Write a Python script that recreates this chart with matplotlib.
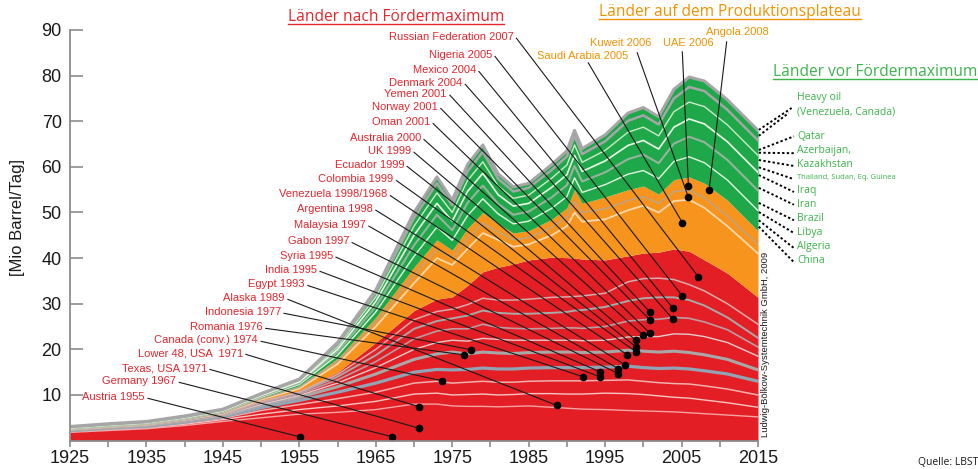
import numpy as np
import matplotlib
matplotlib.use("Agg")
import matplotlib.pyplot as plt
from matplotlib.lines import Line2D

# Weltölförderung nach Ländergruppen [Mio Barrel/Tag]
years = [1925, 1930, 1935, 1940, 1945, 1950, 1955, 1960, 1965, 1970, 1973, 1975, 1977, 1979,
         1981, 1983, 1985, 1988, 1990, 1991, 1992, 1995, 1998, 2000, 2002, 2004, 2006, 2008,
         2011, 2015]

# upper edges of the three groups (stacked)
red_top = [2.4, 3.0, 3.5, 4.6, 5.9, 8.6, 10.8, 15.0, 21.5, 28.5, 31.0, 31.5, 34.0, 37.0,
           38.0, 38.7, 39.6, 40.2, 40.1, 40.0, 39.8, 39.6, 40.5, 41.1, 41.3, 42.0, 41.5, 39.6,
           36.7, 31.4]
orange_top = [2.42, 3.02, 3.52, 4.65, 6.1, 9.3, 12.0, 18.0, 27.0, 38.0, 44.0, 41.7, 46.5, 50.0,
              47.5, 45.5, 46.0, 48.5, 51.0, 55.0, 52.0, 53.4, 55.0, 55.8, 54.0, 57.2, 57.8, 56.4,
              52.7, 46.0]
total = [3.1, 3.7, 4.2, 5.4, 6.9, 10.3, 13.5, 21.5, 33.0, 50.0, 57.8, 52.7, 60.5, 64.8,
         58.5, 55.6, 56.4, 60.5, 63.5, 68.0, 64.0, 67.0, 71.8, 73.0, 71.0, 77.0, 79.7, 78.8,
         74.7, 68.0]

# country borders inside the red group
red_l1 = [1.8, 2.2, 2.6, 3.3, 4.2, 5.0, 5.8, 6.2, 6.8, 8.0, 8.0, 7.6, 7.5, 7.5, 7.4, 7.5, 7.6,
          7.3, 7.1, 7.0, 6.9, 6.8, 6.6, 6.5, 6.4, 6.3, 6.1, 5.9, 5.6, 5.2]
red_l2 = [1.95, 2.4, 2.8, 3.6, 4.6, 5.8, 6.8, 7.6, 8.6, 10.2, 10.4, 10.0, 10.1, 10.2, 10.0, 10.1,
          10.3, 10.3, 10.2, 10.2, 10.2, 10.4, 10.3, 10.1, 9.8, 9.5, 9.3, 8.9, 8.3, 7.3]
red_l3 = [2.05, 2.55, 2.95, 3.8, 4.9, 6.6, 7.9, 9.2, 10.6, 12.6, 13.0, 12.6, 12.8, 13.0, 12.8, 12.8,
          13.0, 13.1, 13.1, 13.1, 13.1, 13.2, 13.3, 13.0, 12.7, 12.5, 12.4, 12.0, 11.3, 10.0]
red_l4 = [2.15, 2.7, 3.1, 4.05, 5.2, 7.2, 8.8, 10.6, 12.6, 15.0, 15.6, 15.5, 15.6, 15.9, 15.7,
          15.7, 15.9, 16.0, 16.0, 16.0, 16.0, 16.1, 16.3, 16.0, 15.8, 15.9, 15.7, 15.3, 14.6, 13.0]
red_l5 = [2.25, 2.8, 3.25, 4.25, 5.45, 7.7, 9.5, 11.8, 14.6, 17.8, 19.0, 19.4, 19.0, 19.4, 19.2,
          19.1, 19.3, 19.4, 19.4, 19.4, 19.3, 19.4, 19.8, 19.6, 19.4, 19.6, 19.3, 18.8, 17.8, 15.5]
red_l6 = [2.3, 2.85, 3.3, 4.35, 5.55, 7.95, 9.9, 12.6, 16.0, 20.0, 21.5, 22.0, 21.8, 22.4, 22.2,
          22.0, 22.0, 22.0, 22.0, 22.0, 21.9, 22.0, 22.7, 22.8, 22.8, 23.4, 23.3, 22.8, 21.5, 18.5]
red_l7 = [2.33, 2.9, 3.35, 4.42, 5.65, 8.2, 10.2, 13.3, 17.3, 22.3, 24.0, 24.5, 24.5, 25.5, 24.8,
          24.6, 24.5, 24.6, 24.7, 24.7, 24.6, 25.0, 26.2, 26.5, 26.6, 27.0, 26.8, 26.0, 24.3, 20.5]
red_l8 = [2.36, 2.95, 3.4, 4.5, 5.75, 8.4, 10.5, 14.0, 18.7, 24.5, 26.2, 26.8, 27.4, 28.5, 28.0,
          27.8, 27.8, 28.0, 28.2, 28.5, 28.6, 29.3, 30.6, 31.2, 31.4, 31.4, 30.8, 29.6, 27.0, 22.5]
red_l9 = [2.38, 2.98, 3.45, 4.55, 5.82, 8.5, 10.65, 14.5, 20.0, 26.5, 28.3, 28.8, 29.8, 31.2, 30.8,
          30.8, 31.0, 31.4, 31.5, 31.6, 31.7, 32.3, 34.8, 35.5, 35.6, 35.3, 34.2, 32.8, 30.0, 25.5]

# borders inside the orange group
orange_l1 = [2.41, 3.01, 3.51, 4.62, 6.0, 9.0, 11.4, 16.8, 25.0, 34.5, 40.0, 38.5, 42.0, 45.5,
             44.0, 42.5, 43.0, 45.0, 47.0, 50.0, 48.0, 48.5, 50.5, 51.5, 50.0, 52.5, 52.8, 51.0,
             47.0, 41.0]
orange_l2 = [2.415, 3.015, 3.515, 4.63, 6.05, 9.15, 11.7, 17.4, 26.0, 36.2, 42.0, 40.0, 44.3, 47.7,
             45.7, 44.0, 44.5, 46.7, 49.0, 52.5, 50.0, 50.8, 52.6, 53.5, 52.0, 54.6, 54.9, 53.2,
             49.2, 43.0]

# borders inside the green group
green_l1 = [2.55, 3.15, 3.65, 4.8, 6.25, 9.5, 12.3, 18.7, 28.2, 40.4, 46.8, 43.9, 49.3, 53.0,
            49.7, 47.5, 48.1, 50.9, 53.5, 57.6, 54.4, 56.1, 58.4, 59.2, 57.4, 61.2, 62.2, 60.9,
            57.1, 50.4]
green_l2 = [2.65, 3.25, 3.75, 4.9, 6.35, 9.7, 12.6, 19.4, 29.4, 42.8, 49.5, 46.1, 52.1, 55.9,
            51.9, 49.5, 50.2, 53.3, 56.0, 60.2, 56.8, 58.8, 61.7, 62.7, 60.8, 65.1, 66.6, 65.4,
            61.5, 54.8]
green_l3 = [2.75, 3.35, 3.85, 5.0, 6.5, 9.88, 12.87, 20.0, 30.5, 45.0, 52.0, 48.1, 54.6, 58.6,
            53.9, 51.4, 52.0, 55.5, 58.3, 62.5, 59.0, 61.3, 64.7, 65.8, 63.9, 68.7, 70.5, 69.4,
            65.5, 58.8]
green_l4 = [2.85, 3.45, 3.95, 5.1, 6.6, 10.05, 13.12, 20.6, 31.5, 47.0, 54.3, 50.0, 57.0, 61.1,
            55.8, 53.1, 53.8, 57.5, 60.4, 64.8, 61.0, 63.6, 67.6, 68.7, 66.8, 72.1, 74.2, 73.2,
            69.2, 62.5]
green_l5 = [2.95, 3.55, 4.05, 5.22, 6.75, 10.2, 13.35, 21.1, 32.4, 48.8, 56.4, 51.6, 59.0, 63.3,
            57.4, 54.6, 55.4, 59.3, 62.3, 66.7, 62.8, 65.6, 70.1, 71.3, 69.3, 75.0, 77.5, 76.6,
            72.5, 65.8]

# Länder nach Fördermaximum: label, dot position (year, level)
red_labels = ["Russian Federation 2007", "Nigeria 2005", "Mexico 2004", "Denmark 2004",
              "Yemen 2001", "Norway 2001", "Oman 2001", "Australia 2000", "UK 1999",
              "Ecuador 1999", "Colombia 1999", "Venezuela 1998/1968", "Argentina 1998",
              "Malaysia 1997", "Gabon 1997", "Syria 1995", "India 1995", "Egypt 1993",
              "Alaska 1989", "Indonesia 1977", "Romania 1976", "Canada (conv.) 1974",
              "Lower 48, USA  1971", "Texas, USA 1971", "Germany 1967", "Austria 1955"]
red_dot_x = [2007.2, 2005.1, 2003.9, 2003.9, 2000.9, 2000.9, 2000.9, 2000.0, 1999.0, 1999.0,
             1999.0, 1997.9, 1997.6, 1996.7, 1996.7, 1994.3, 1994.3, 1992.1, 1988.7, 1977.5,
             1976.5, 1973.7, 1970.7, 1970.7, 1967.1, 1955.1]
red_dot_y = [35.9, 31.7, 29.0, 26.6, 28.1, 26.4, 23.5, 23.1, 22.0, 20.6, 19.5, 18.8, 16.6, 15.8,
             14.7, 15.1, 14.0, 14.0, 7.7, 19.9, 18.8, 13.1, 7.4, 2.7, 0.86, 0.8]
# label anchor (right end of text)
red_lab_x = [1983.0, 1980.2, 1978.1, 1976.3, 1974.3, 1973.1, 1972.1, 1970.9, 1969.6, 1968.7,
             1967.3, 1966.5, 1964.6, 1963.7, 1961.5, 1959.4, 1957.3, 1955.7, 1953.1, 1952.6,
             1950.2, 1949.6, 1947.6, 1942.9, 1938.9, 1934.8]
red_lab_y = [88.5, 84.5, 81.2, 78.4, 76.0, 73.1, 69.8, 66.3, 63.5, 60.4, 57.3, 54.0, 50.8, 47.3,
             43.7, 40.5, 37.4, 34.3, 31.25, 28.2, 24.9, 22.05, 19.2, 15.9, 13.06, 9.56]

# Länder auf dem Produktionsplateau
orange_labels = ["Kuweit 2006", "UAE 2006", "Saudi Arabia 2005", "Angola 2008"]
orange_dot_x = [2005.9, 2005.9, 2005.1, 2008.6]
orange_dot_y = [53.3, 55.8, 47.8, 54.9]
orange_lab_x = [1993.0, 2002.6, 1986.1, 2008.2]
orange_lab_y = [87.1, 87.1, 84.3, 89.6]
orange_line_x = [1999.2, 2005.1, 1992.8, 2010.9]
orange_line_y = [85.0, 85.2, 82.8, 87.4]

# Länder vor Fördermaximum
green_labels = ["Qatar", "Azerbaijan,", "Kazakhstan", "Thailand, Sudan, Eq. Guinea", "Iraq",
                "Iran", "Brazil", "Libya", "Algeria", "China"]
green_lab_y = [66.7, 63.5, 60.5, 57.6, 54.8, 51.8, 48.7, 45.7, 42.5, 39.4]
green_start_y = [63.7, 63.1, 61.5, 59.9, 58.2, 55.4, 52.1, 50.1, 48.3, 46.9]
green_end_y = [66.7, 63.0, 60.2, 57.3, 54.5, 51.7, 48.3, 45.5, 42.2, 39.1]

RED = "#e31e24"
ORANGE = "#f7941d"
GREEN = "#1ea84a"
RED_TXT = "#e5262d"
ORANGE_TXT = "#f39200"
GREEN_TXT = "#3cb44b"

W, H = 979, 469
fig = plt.figure(figsize=(W / 100, H / 100), dpi=100)
ax = fig.add_axes([70 / W, (H - 440.6) / H, (758 - 70) / W, (440.6 - 30) / H])

x = np.array(years)
ax.fill_between(x, 0, red_top, color=RED, lw=0, zorder=1)
ax.fill_between(x, red_top, orange_top, color=ORANGE, lw=0, zorder=1)
ax.fill_between(x, orange_top, total, color=GREEN, lw=0, zorder=1)

# inner borders
red_lines = [(red_l1, "#f3a3a3", 1.0), (red_l2, "#f6c4c4", 1.0), (red_l3, "#f0b0b0", 1.1),
             (red_l4, "#91a4b5", 2.3), (red_l5, "#a8a8a8", 2.2), (red_l6, "#e2cccc", 1.0),
             (red_l7, "#bb9ca3", 1.2), (red_l8, "#a9a9a9", 1.4), (red_l9, "#d7abab", 1.1)]
for vals, c, lw in red_lines:
    ax.plot(x, vals, color=c, lw=lw, zorder=2)
ax.plot(x, orange_l1, color="#fad8ad", lw=1.3, zorder=2)
ax.plot(x, orange_l2, color="#b9a48e", lw=1.0, zorder=2)
green_lines = [(green_l1, "#e6f4df", 1.0), (green_l2, "#98b39b", 1.5), (green_l3, "#eef8e8", 1.2),
               (green_l4, "#cfe8c6", 1.0), (green_l5, "#a6a6a6", 1.8)]
for vals, c, lw in green_lines:
    ax.plot(x, vals, color=c, lw=lw, zorder=2)
ax.plot(x, total, color="#a6a6a6", lw=2.2, zorder=2, solid_joinstyle="round")

# axes
ax.set_xlim(1925, 2015)
ax.set_ylim(0, 90)
for s in ["top", "right"]:
    ax.spines[s].set_visible(False)
for s in ["left", "bottom"]:
    ax.spines[s].set_color("#8c8c8c")
    ax.spines[s].set_linewidth(1.3)
    ax.spines[s].set_zorder(6)
ax.set_xticks(range(1925, 2016, 10))
ax.set_xticks(range(1930, 2015, 10), minor=True)
ax.set_yticks(range(10, 91, 10))
ax.tick_params(axis="y", direction="in", length=9, width=1.2, color="#8c8c8c",
               labelsize=13, pad=6)
ax.tick_params(axis="x", which="both", direction="out", length=4, width=1.2,
               color="#8c8c8c", labelsize=13, pad=3)
for lab in ax.get_xticklabels() + ax.get_yticklabels():
    lab.set_family("Liberation Sans")
    lab.set_color("#1a1a1a")
fig.text(18 / W, 1 - 217 / H, "[Mio Barrel/Tag]", rotation=90, ha="center", va="center",
         fontsize=12, family="Liberation Sans", color="#1a1a1a")

# red annotations
for lab, lx, ly, dx, dy in zip(red_labels, red_lab_x, red_lab_y, red_dot_x, red_dot_y):
    ax.text(lx, ly, lab, ha="right", va="center", fontsize=8, color=RED_TXT,
            family="Liberation Sans", zorder=7)
    ax.plot([lx + 0.4, dx], [ly - 0.3, dy], color="#1a1a1a", lw=0.8, zorder=4, clip_on=False)
    ax.plot(dx, dy, "o", ms=4.5, color="black", zorder=5, clip_on=False)

# orange annotations
for lab, lx, ly, sx, sy, dx, dy in zip(orange_labels, orange_lab_x, orange_lab_y,
                                       orange_line_x, orange_line_y, orange_dot_x, orange_dot_y):
    ax.text(lx, ly, lab, ha="left", va="center", fontsize=8, color=ORANGE_TXT,
            family="Liberation Sans", zorder=7)
    ax.plot([sx, dx], [sy, dy], color="#1a1a1a", lw=0.8, zorder=4, clip_on=False)
    ax.plot(dx, dy, "o", ms=4.5, color="black", zorder=5, clip_on=False)

# green labels with dotted leaders
gx0, gx1, gxt = 2015.1, 2019.7, 2020.1
ax.text(gxt, 75.1, "Heavy oil", ha="left", va="center", fontsize=7.5, color=GREEN_TXT,
        family="Open Sans")
ax.text(gxt, 72.0, "(Venezuela, Canada)", ha="left", va="center", fontsize=7.5, color=GREEN_TXT,
        family="Open Sans")
ax.plot([gx0, 2019.4], [68.1, 72.9], color="black", lw=1.4, ls=(0, (1.2, 1.2)), clip_on=False)
ax.plot([gx0, 2019.0], [66.8, 71.8], color="black", lw=1.4, ls=(0, (1.2, 1.2)), clip_on=False)
for lab, ly, sy, ey in zip(green_labels, green_lab_y, green_start_y, green_end_y):
    fs = 5.5 if lab.startswith("Thailand") else 7.5
    ax.text(gxt, ly, lab, ha="left", va="center", fontsize=fs, color=GREEN_TXT,
            family="Open Sans")
    ax.plot([gx0, gx1], [sy, ey], color="black", lw=1.4, ls=(0, (1.2, 1.2)), clip_on=False)

# group titles
titles = [
    ("Länder nach Fördermaximum", 288, 17, RED_TXT),
    ("Länder auf dem Produktionsplateau", 599, 12, ORANGE_TXT),
    ("Länder vor Fördermaximum", 773, 72, GREEN_TXT),
]
title_objs = []
for t, px, py, c in titles:
    title_objs.append((fig.text(px / W, 1 - py / H, t, ha="left", va="center", fontsize=11.2,
                                family="Open Sans", color=c), c))

fig.text(766 / W, 1 - 437 / H, "Ludwig-Bölkow-Systemtechnik GmbH, 2009", rotation=90,
         ha="center", va="bottom", fontsize=6.8, family="Liberation Sans", color="#1a1a1a")
fig.text(918 / W, 1 - 462 / H, "Quelle: LBST", ha="left", va="center", fontsize=7.5,
         family="Open Sans", color="#1a1a1a")

# underline group titles
fig.canvas.draw()
r = fig.canvas.get_renderer()
for t, c in title_objs:
    bb = t.get_window_extent(r)
    yb = bb.y0 + 1
    fig.add_artist(Line2D([bb.x0 / W, bb.x1 / W], [yb / H, yb / H], color=c, lw=1.0,
                          transform=fig.transFigure))

fig.savefig("out.png", dpi=100)
